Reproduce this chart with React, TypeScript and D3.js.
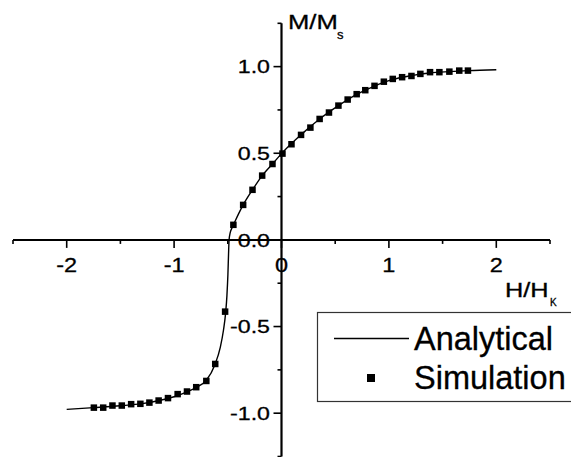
import React from "react";
import * as d3 from "d3";

const W = 571;
const H = 457;

// Analytical curve (H/HK, M/Ms)
const analyticH = [-2.0, -1.75, -1.5, -1.3, -1.15, -1.0, -0.88, -0.79, -0.7, -0.62, -0.57, -0.54, -0.52, -0.508, -0.499, -0.493, -0.488, -0.478, -0.46, -0.445, -0.4, -0.357, -0.27, -0.18, -0.084, 0, 0.18, 0.355, 0.53, 0.7, 0.866, 1.036, 1.21, 1.38, 1.56, 1.74, 2.0];
const analyticM = [-0.978, -0.968, -0.957, -0.945, -0.928, -0.905, -0.877, -0.85, -0.81, -0.72, -0.62, -0.52, -0.42, -0.32, -0.2, -0.08, 0.0, 0.04, 0.07, 0.09, 0.15, 0.202, 0.289, 0.371, 0.438, 0.498, 0.606, 0.698, 0.775, 0.84, 0.888, 0.926, 0.948, 0.963, 0.971, 0.977, 0.982];

// Simulation points
const simH = [-1.747, -1.66, -1.574, -1.487, -1.4, -1.314, -1.23, -1.144, -1.057, -0.967, -0.88, -0.794, -0.7, -0.617, -0.525, -0.448, -0.357, -0.27, -0.18, -0.084, 0.009, 0.093, 0.182, 0.269, 0.355, 0.442, 0.53, 0.616, 0.7, 0.78, 0.866, 0.953, 1.036, 1.123, 1.21, 1.293, 1.383, 1.47, 1.563, 1.655, 1.736];
const simM = [-0.968, -0.968, -0.956, -0.956, -0.948, -0.946, -0.939, -0.927, -0.913, -0.89, -0.875, -0.85, -0.814, -0.716, -0.414, 0.087, 0.202, 0.289, 0.371, 0.438, 0.498, 0.552, 0.606, 0.648, 0.698, 0.735, 0.775, 0.81, 0.841, 0.864, 0.889, 0.913, 0.929, 0.939, 0.946, 0.958, 0.968, 0.968, 0.971, 0.977, 0.977];

const xMajor = [-2, -1, 0, 1, 2];
const xLabels = ["-2", "-1", "0", "1", "2"];
const xMinor = [-2.5, -1.5, -0.5, 0.5, 1.5, 2.5];
const yMajor = [-1, -0.5, 0, 0.5, 1];
const yLabels = ["-1.0", "-0.5", "0.0", "0.5", "1.0"];
const yMinor = [-1.25, -0.75, -0.25, 0.25, 0.75, 1.25];

const legendNames = ["Analytical", "Simulation"];

const FONT = "Arial, 'Liberation Sans', Helvetica, sans-serif";

export default function App() {
  const x = d3.scaleLinear().domain([-2.5, 2.5]).range([13, 550]);
  const y = d3.scaleLinear().domain([-1.25, 1.25]).range([456.5, 23.3]);

  const pts: [number, number][] = analyticH.map((h, i) => [h, analyticM[i]]);
  const line = d3
    .line<[number, number]>()
    .x((d) => x(d[0]))
    .y((d) => y(d[1]))
    .curve(d3.curveMonotoneX);

  const x0 = x(0);
  const y0 = y(0);
  const ms = 6.5;

  return (
    <svg
      width={W}
      height={H}
      style={{ position: "absolute", left: 0, top: 0, background: "#fff" }}
      fontFamily={FONT}
    >
      <rect x={0} y={0} width={W} height={H} fill="#fff" />
      {/* axes */}
      <line x1={x(-2.5)} x2={x(2.5)} y1={y0} y2={y0} stroke="#000" strokeWidth={2} />
      <line x1={x0} x2={x0} y1={y(1.25)} y2={y(-1.25)} stroke="#000" strokeWidth={2.2} />
      {xMajor.map((v) => (
        <line key={"xM" + v} x1={x(v)} x2={x(v)} y1={y0} y2={y0 + 8} stroke="#000" strokeWidth={1.6} />
      ))}
      {xMinor.map((v) => (
        <line key={"xm" + v} x1={x(v)} x2={x(v)} y1={y0} y2={y0 + 4} stroke="#000" strokeWidth={1.6} />
      ))}
      {yMajor.map((v) => (
        <line key={"yM" + v} x1={x0} x2={x0 - 8} y1={y(v)} y2={y(v)} stroke="#000" strokeWidth={1.6} />
      ))}
      {yMinor.map((v) => (
        <line key={"ym" + v} x1={x0} x2={x0 - 4} y1={y(v)} y2={y(v)} stroke="#000" strokeWidth={1.6} />
      ))}
      {xMajor.map((v, i) => (
        <text
          key={"xl" + v}
          transform={`translate(${x(v)},271.5) scale(1.12,1)`}
          textAnchor="middle"
          fontSize={21}
          fill="#000"
          stroke="#000"
          strokeWidth={0.3}
        >
          {xLabels[i]}
        </text>
      ))}
      {yMajor.map((v, i) => (
        <text
          key={"yl" + v}
          transform={`translate(270,${y(v) + 6.8}) scale(1.22,1)`}
          textAnchor="end"
          fontSize={19}
          fill="#000"
          stroke="#000"
          strokeWidth={0.3}
        >
          {yLabels[i]}
        </text>
      ))}
      {/* axis titles */}
      <g fill="#000" stroke="#000" strokeWidth={0.3}>
        <text transform="translate(288,28.5) scale(1.25,1)" fontSize={20.5}>M/M</text>
        <text x={337} y={38.5} fontSize={13}>s</text>
        <text transform="translate(505,297) scale(1.3,1)" fontSize={19.5}>H/H</text>
        <text x={550} y={306} fontSize={10}>K</text>
      </g>

      {/* data */}
      <path d={line(pts) || ""} fill="none" stroke="#000" strokeWidth={1.4} />
      {simH.map((h, i) => (
        <rect key={"s" + i} x={x(h) - ms / 2} y={y(simM[i]) - ms / 2} width={ms} height={ms} fill="#000" />
      ))}

      {/* legend */}
      <rect x={317.5} y={312.5} width={270} height={89} fill="none" stroke="#333" strokeWidth={1.2} />
      <line x1={334} x2={409} y1={338.5} y2={338.5} stroke="#000" strokeWidth={1.3} />
      <rect x={371 - 4} y={378 - 4} width={8} height={8} fill="#000" />
      <g fill="#000" stroke="#000" strokeWidth={0.3}>
        <text x={414} y={350} fontSize={32.5}>{legendNames[0]}</text>
        <text x={414} y={388.5} fontSize={32.5}>{legendNames[1]}</text>
      </g>
    </svg>
  );
}
